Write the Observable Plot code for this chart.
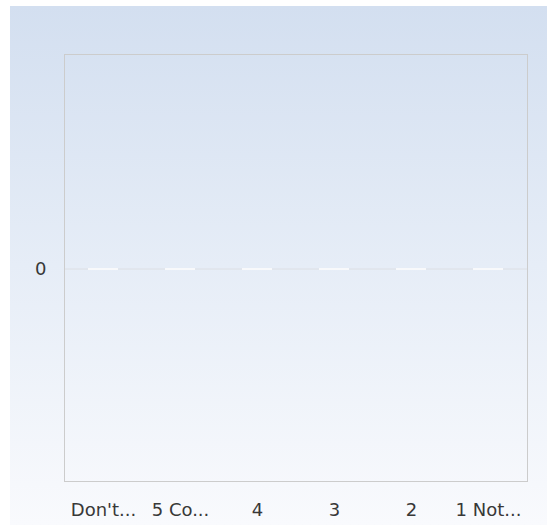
<!DOCTYPE html>
<html>
<head>
<meta charset="utf-8">
<script src="https://cdn.jsdelivr.net/npm/d3@7"></script>
<script src="https://cdn.jsdelivr.net/npm/@observablehq/plot@0.6"></script>
<style>
  html, body { margin: 0; padding: 0; background: #fff; }
  #chart svg { display: block; }
</style>
</head>
<body>
<div id="chart"></div>
<script>
const categories = ["Don't...", "5 Co...", "4", "3", "2", "1 Not..."];
const values = [0, 0, 0, 0, 0, 0];
const yTicks = [0];

const data = categories.map((c, i) => ({category: c, value: values[i]}));

const chart = Plot.plot({
  width: 547,
  height: 525,
  marginLeft: 64,
  marginRight: 20,
  marginTop: 54,
  marginBottom: 44,
  insetTop: 2,
  style: {fontFamily: "DejaVu Sans", fontSize: "18px", color: "#333"},
  x: {domain: categories, paddingInner: 0.61, paddingOuter: 0.31, label: null},
  y: {domain: [-1, 1], label: null},
  marks: [
    Plot.ruleY(yTicks, {stroke: "#dcdfe4", strokeWidth: 1}),
    Plot.tickY(data, {x: "category", y: "value", stroke: "#ffffff", strokeWidth: 1.5}),
    Plot.frame({stroke: "#cccccc", strokeWidth: 1}),
    Plot.axisX({tickSize: 0, tickPadding: 22, fontSize: 18, fill: "#383838", label: null}),
    Plot.axisY(yTicks, {tickSize: 0, tickPadding: 18, fontSize: 18, fill: "#383838", tickFormat: d => String(d), label: null})
  ]
});
chart.style.background = "linear-gradient(to bottom, #d3dff0 0%, #e6edf7 50%, #f9fafd 100%) no-repeat 10px 6px / 537px 519px";
document.getElementById("chart").appendChild(chart);
</script>
</body>
</html>
